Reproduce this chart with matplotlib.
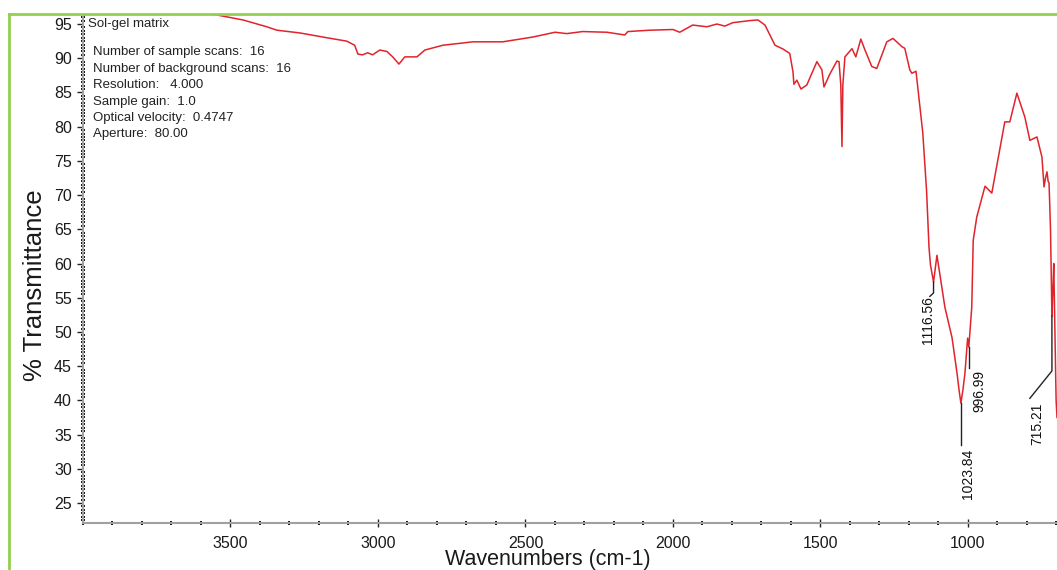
import matplotlib
matplotlib.use('Agg')
import matplotlib.pyplot as plt
from matplotlib.ticker import MultipleLocator, FixedLocator
from matplotlib.lines import Line2D

plt.rcParams['font.family'] = ['Liberation Sans', 'DejaVu Sans']

# spectrum (cm-1, %T)
wavenumber = [4000, 3800, 3620, 3543, 3458, 3377, 3343, 3265, 3174, 3106,
              3079, 3068, 3052, 3035, 3018, 2994, 2970, 2950, 2929, 2909,
              2868, 2841, 2780, 2678, 2577, 2475, 2400, 2360, 2306, 2224,
              2163, 2153, 2078, 2000, 1977, 1933, 1885, 1851, 1824, 1797,
              1739, 1712, 1688, 1654, 1627, 1604, 1593, 1590, 1580, 1566,
              1546, 1512, 1495, 1488, 1468, 1444, 1437, 1431, 1427, 1424,
              1417, 1393, 1380, 1363, 1349, 1326, 1309, 1275, 1254, 1224,
              1214, 1197, 1190, 1176, 1153, 1140, 1132, 1127, 1116.56, 1105,
              1078, 1054, 1037, 1030, 1023.84, 1017, 1010, 1001, 997, 987,
              982, 970, 942, 919, 875, 858, 834, 807, 790, 766,
              749, 742, 737, 732, 728, 725, 720, 715.21, 712, 709,
              705, 701, 698]
transmittance = [98.5, 97.8, 97.0, 96.3, 95.6, 94.6, 94.1, 93.7, 93.0, 92.5,
                 91.9, 90.6, 90.5, 90.8, 90.5, 91.2, 91.0, 90.2, 89.15, 90.2,
                 90.2, 91.2, 91.9, 92.4, 92.4, 93.1, 93.8, 93.6, 93.9, 93.8,
                 93.4, 93.9, 94.1, 94.2, 93.8, 94.85, 94.6, 95.0, 94.7, 95.2,
                 95.5, 95.6, 94.85, 91.9, 91.35, 90.7, 88.0, 86.2, 86.8, 85.5,
                 86.1, 89.5, 88.3, 85.8, 87.7, 89.6, 89.5, 86.1, 77.1, 86.1,
                 90.2, 91.4, 90.2, 92.8, 91.2, 88.8, 88.5, 92.4, 92.9, 91.7,
                 91.45, 88.3, 87.8, 88.1, 79.1, 70.5, 62.4, 59.8, 57.3, 61.2,
                 53.6, 49.2, 44.0, 41.5, 39.6, 41.5, 44.0, 49.1, 47.8, 53.6,
                 63.4, 66.8, 71.3, 70.3, 80.7, 80.7, 84.9, 81.4, 78.0, 78.5,
                 75.55, 71.2, 72.5, 73.4, 72.0, 71.8, 65.0, 52.3, 56.0, 60.0,
                 50.0, 40.0, 37.5]

x_ticks = [3500, 3000, 2500, 2000, 1500, 1000]

# peak picks
peak_labels = ['1116.56', '1023.84', '996.99', '715.21']
peak_wn = [1116.56, 1023.84, 996.99, 715.21]
peak_T = [57.3, 39.6, 47.8, 52.3]
# leader line bends / ends and label anchors (wn, %T)
leader_pts = [[(1116.56, 55.7), (1129, 55.2)],
              [(1023.84, 33.5)],
              [(996.99, 44.7)],
              [(715.21, 44.3), (790, 40.3)]]
label_pos = [(1136, 55.3), (1000, 33.0), (962.7, 44.4), (766, 39.6)]

title = 'Sol-gel matrix'
info_lines = ['Number of sample scans:  16',
              'Number of background scans:  16',
              'Resolution:   4.000',
              'Sample gain:  1.0',
              'Optical velocity:  0.4747',
              'Aperture:  80.00']

W, H = 1057, 570
fig = plt.figure(figsize=(W / 100, H / 100), dpi=100)
ax = fig.add_axes([83 / W, 1 - 523 / H, (W - 83) / W, (523 - 15) / H])

ax.plot(wavenumber, transmittance, color='#e0242c', lw=1.1)

for wn, t, pts, lab, (lx, ly) in zip(peak_wn, peak_T, leader_pts, peak_labels, label_pos):
    xs = [wn] + [p[0] for p in pts]
    ys = [t] + [p[1] for p in pts]
    ax.plot(xs, ys, color='#222222', lw=1.0)
    ax.text(lx, ly, lab, rotation=90, ha='center', va='top', fontsize=10,
            color='#111111')

ax.set_xlim(4000, 698)
ax.set_ylim(22.08, 96.32)

for s in ['top', 'right']:
    ax.spines[s].set_visible(False)
for s in ['left', 'bottom']:
    ax.spines[s].set_color('#a0a0a0')
    ax.spines[s].set_linewidth(1.5)

ax.xaxis.set_major_locator(FixedLocator(x_ticks))
ax.xaxis.set_minor_locator(MultipleLocator(100))
ax.yaxis.set_major_locator(MultipleLocator(5))
ax.yaxis.set_minor_locator(MultipleLocator(0.5))

ax.tick_params(axis='y', which='major', direction='out', length=4, width=1,
               color='#222222', labelsize=11.5, pad=4, labelcolor='#1a1a1a')
ax.tick_params(axis='x', which='major', direction='inout', length=6, width=1,
               color='#222222', labelsize=11.5, pad=6, labelcolor='#1a1a1a')
ax.tick_params(which='minor', direction='inout', length=3, width=1.4,
               color='#111111')

fig.text(88 / W, 1 - 27.5 / H, title, fontsize=9.5, va='baseline', color='#222222')
for i, line in enumerate(info_lines):
    fig.text(93 / W, 1 - (55 + 16.5 * i) / H, line, fontsize=9.5,
             va='baseline', color='#222222')

fig.text(35 / W, 1 - 285 / H, '% Transmittance', rotation=90, fontsize=18.5,
         ha='center', va='center', color='#1a1a1a')
fig.text(548 / W, 1 - 565 / H, 'Wavenumbers (cm-1)', fontsize=15.5,
         ha='center', va='baseline', color='#1a1a1a')

# green frame around the picture
green = '#92d050'
fig.add_artist(Line2D([9 / W, 9 / W], [0, 1 - 14 / H], transform=fig.transFigure,
                      color=green, lw=2))
fig.add_artist(Line2D([9 / W, 1], [1 - 14 / H, 1 - 14 / H], transform=fig.transFigure,
                      color=green, lw=2))

fig.savefig('out.png', dpi=100, facecolor='white')
